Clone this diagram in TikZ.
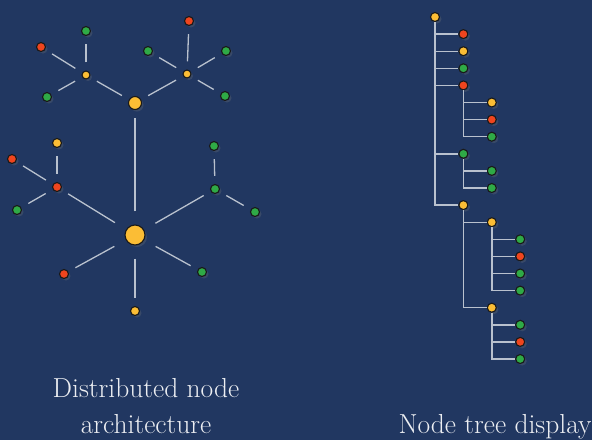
\documentclass[tikz,border=0pt]{standalone}
\usetikzlibrary{positioning,shadows}

\definecolor{bgblue}{HTML}{213761}
\definecolor{nyellow}{HTML}{FBBD35}
\definecolor{nred}{HTML}{EF451E}
\definecolor{ngreen}{HTML}{2FAA46}
\definecolor{wire}{HTML}{B9C1CE}
\definecolor{captext}{HTML}{ECEEF2}

\tikzset{
  dot/.style={circle, draw=black!90, line width=1.1pt, fill=#1, minimum size=9pt, inner sep=0pt,
    drop shadow={opacity=0.25, shadow xshift=2pt, shadow yshift=-2pt}},
  link/.style={draw=wire, line width=1.3pt, shorten <=8pt, shorten >=8pt},
  branch/.style={draw=wire, line width=1.4pt},
  caption/.style={text=captext, font=\fontsize{27.5}{36}\selectfont, align=center, inner sep=0pt},
}

\begin{document}
\begin{tikzpicture}[x=1pt,y=-1pt]
\useasboundingbox (0,0) rectangle (592,440);
\fill[bgblue] (0,0) rectangle (592,440);

%% distributed nodes
\node[dot=nyellow, minimum size=13pt] (top) at (135,103) {};
\node[dot=nyellow, minimum size=20pt] (core) at (135,235) {};
\node[dot=nyellow, minimum size=8pt] (ul) at (86,75) {};
\node[dot=nyellow, minimum size=8pt] (ur) at (187,74) {};
\node[dot=nred] (ml) at (57,187) {};
\node[dot=ngreen] (mr) at (215,189) {};
\foreach \n/\x/\y/\col in {ul1/86/31/ngreen, ul2/41/47/nred, ul3/47/97/ngreen,
    ur1/189/21/nred, ur2/148/51/ngreen, ur3/226/51/ngreen, ur4/225/96/ngreen,
    ml1/57/143/nyellow, ml2/12/159/nred, ml3/17/210/ngreen,
    mr1/214/146/ngreen, mr2/255/212/ngreen,
    co1/64/274/nred, co2/202/272/ngreen, co3/135/311/nyellow}{
  \node[dot=\col] (\n) at (\x,\y) {};
}

\foreach \a/\b in {top/ul, top/ur, ul/ul1, ul/ul2, ul/ul3, ur/ur1, ur/ur2, ur/ur3, ur/ur4,
    ml/ml1, ml/ml2, ml/ml3, mr/mr1, mr/mr2}{
  \draw[link] (\a) -- (\b);
}
\foreach \b in {top, ml, mr, co1, co2, co3}{
  \draw[link, shorten <=13pt] (core) -- (\b);
}

%% tree display
\foreach \l/\col [count=\r from 0] in {0/nyellow, 1/nred, 1/nyellow, 1/ngreen, 1/nred,
    2/nyellow, 2/nred, 2/ngreen, 1/ngreen, 2/ngreen, 2/ngreen, 1/nyellow,
    2/nyellow, 3/ngreen, 3/nred, 3/ngreen, 3/ngreen, 2/nyellow, 3/ngreen, 3/nred, 3/ngreen}{
  \node[dot=\col] (t\r) at ({435+28.4*\l},{17+17.1*\r}) {};
}
\foreach \p/\c in {0/1, 0/2, 0/3, 0/4, 4/5, 4/6, 4/7, 0/8, 8/9, 8/10, 0/11,
    11/12, 12/13, 12/14, 12/15, 12/16, 11/17, 17/18, 17/19, 17/20}{
  \draw[branch] (t\p) |- (t\c);
}

%% captions
\node[caption, anchor=base] (capL) at (146,433) {Distributed node\\architecture};
\node[caption, anchor=base] (capR) at (495,433) {Node tree display};
\end{tikzpicture}
\end{document}
